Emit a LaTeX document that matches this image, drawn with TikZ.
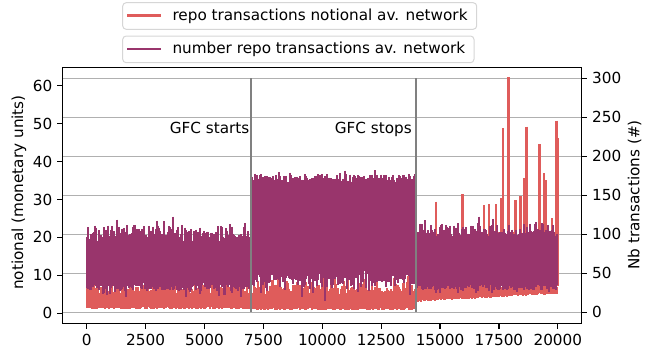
\documentclass[tikz,border=0pt]{standalone}
\usepackage{fontspec}
\setmainfont{DejaVu Sans}
\definecolor{redc}{RGB}{223,92,91}
\definecolor{purc}{RGB}{153,53,108}
\definecolor{gridc}{RGB}{176,176,176}
\definecolor{legedge}{RGB}{214,214,214}
\begin{document}
\begin{tikzpicture}[x=1bp,y=-1bp,
  lbl/.style={font=\fontsize{15.3}{18}\selectfont, inner sep=0pt},
  gridline/.style={draw=gridc, line width=1.2bp},
  tickmark/.style={draw=black, line width=1.2bp},
  spine/.style={draw=black, line width=1.3bp},
  redbar/.style={draw=redc, line width=1.4bp},
  purbar/.style={draw=purc, line width=1.4bp},
  redspike/.style={draw=redc, line width=2.8bp},
  gfcline/.style={draw=gray, line width=2.6bp},
  legbox/.style={draw=legedge, fill=white, rounded corners=3.5bp, line width=1bp},
  legline/.style={line width=2.3bp}]
\useasboundingbox (0,0) rectangle (668,351);
\pgfmathsetseed{11}
% grid (right axis ticks)
\foreach \n in {0,...,6}{
  \pgfmathsetmacro\gy{312.3-\n*39}
  \draw[gridline] (62.7,\gy) -- (581.7,\gy);
}
% red series
\foreach \x in {87,...,250}{
  \pgfmathsetmacro\ya{295-12*rnd-6*rnd^4}
  \pgfmathsetmacro\yb{307+2.5*rnd}
  \draw[redbar] (\x,\ya) -- (\x,\yb);
}
\foreach \x in {252,...,415}{
  \pgfmathsetmacro\ya{297-16*rnd-8*rnd^6}
  \pgfmathsetmacro\yb{308+2.5*rnd}
  \draw[redbar] (\x,\ya) -- (\x,\yb);
}
\foreach \x in {417,...,557}{
  \pgfmathsetmacro\ya{289-6*rnd-(\x>460)*55*rnd^7}
  \pgfmathsetmacro\yb{300-(\x-417)*0.055+2*rnd}
  \draw[redbar] (\x,\ya) -- (\x,\yb);
}
\foreach \sx/\sy in {436/201.7, 462.7/194, 484/205, 489/204, 496/204, 501/198,
  503/128.3, 508.7/77.3, 515.7/200, 520.7/196, 524.3/178, 526.7/126.7,
  539.3/144, 544/173.3, 546/180, 556.7/120.7, 558/138.3, 552/218}{
  \draw[redspike] (\sx,\sy) -- (\sx,286);
}
% purple series
\foreach \x in {87,...,250}{
  \pgfmathsetmacro\ya{242-17*rnd^1.5-12*rnd^8}
  \pgfmathsetmacro\yb{283+7*rnd+12*rnd^10}
  \draw[purbar] (\x,\ya) -- (\x,\yb);
}
\foreach \x in {252,...,415}{
  \pgfmathsetmacro\ya{184-10*rnd-5*rnd^8}
  \pgfmathsetmacro\yb{267+20*rnd+18*rnd^10}
  \draw[purbar] (\x,\ya) -- (\x,\yb);
}
\foreach \x in {417,...,557}{
  \pgfmathsetmacro\ya{237-14*rnd^1.5-16*rnd^10}
  \pgfmathsetmacro\yb{284+6*rnd+5*rnd^8}
  \draw[purbar] (\x,\ya) -- (\x,\yb);
}
% GFC lines
\coordinate (g1t) at (251,78.3); \coordinate (g1b) at (251,312);
\coordinate (g2t) at (416,78.3); \coordinate (g2b) at (416,312);
\draw[gfcline] (g1t) -- (g1b);
\draw[gfcline] (g2t) -- (g2b);
\node[lbl, anchor=base east] (gfcstart) at (249.5,133.5) {GFC starts};
\node[lbl, anchor=base east] (gfcstop) at (412,133.5) {GFC stops};
% spines
\draw[spine] (62.7,67.7) rectangle (581.7,323.3);
% left ticks
\foreach \v in {0,10,...,60}{
  \pgfmathsetmacro\ly{313.3-\v*3.793}
  \draw[tickmark] (57.4,\ly) -- (62.7,\ly);
  \node[lbl, anchor=east] (l\v) at (52.5,\ly) {\v};
}
% right ticks
\foreach \v in {0,50,...,300}{
  \pgfmathsetmacro\ry{312.3-\v*0.78}
  \draw[tickmark] (581.7,\ry) -- (587,\ry);
  \node[lbl, anchor=west] (r\v) at (592,\ry) {\v};
}
% bottom ticks
\foreach \i/\t in {0/0,1/2500,2/5000,3/7500,4/10000,5/12500,6/15000,7/17500,8/20000}{
  \pgfmathsetmacro\bx{86.7+\i*58.89}
  \draw[tickmark] (\bx,323.3) -- (\bx,328.6);
  \node[lbl, anchor=north] (b\i) at (\bx,333.8) {\t};
}
% axis labels
\node[lbl, rotate=90] (ylab) at (18.8,192.5) {notional (monetary units)};
\node[lbl, rotate=90] (y2lab) at (634.5,195) {Nb transactions (\#)};
% legends
\draw[legbox] (122.7,2.7) rectangle (476.7,29.3);
\draw[legbox] (122.7,36) rectangle (474,62.7);
\coordinate (la1) at (127.3,15.5); \coordinate (la2) at (160.7,15.5);
\coordinate (lb1) at (127.3,48.8); \coordinate (lb2) at (160.7,48.8);
\draw[legline, redc] (la1) -- (la2);
\draw[legline, purc] (lb1) -- (lb2);
\node[lbl, anchor=base west] (leg1) at (172.3,20.6) {repo transactions notional av. network};
\node[lbl, anchor=base west] (leg2) at (172.3,53.9) {number repo transactions av. network};
\end{tikzpicture}
\end{document}
